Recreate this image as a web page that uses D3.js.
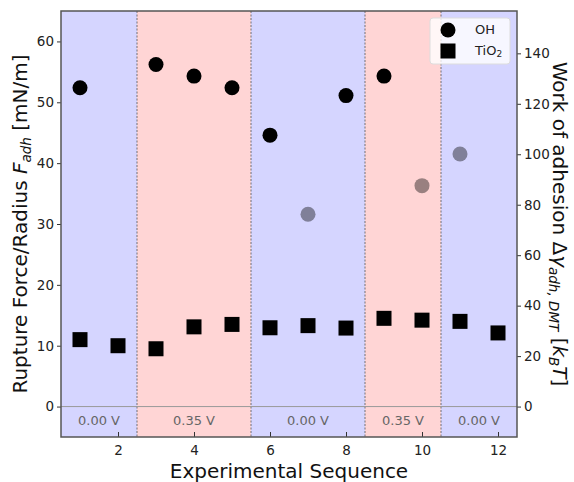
<!DOCTYPE html>
<html>
<head>
<meta charset="utf-8">
<script src="https://cdn.jsdelivr.net/npm/d3@7/dist/d3.min.js"></script>
<style>
  body { margin: 0; background: #fff; }
  svg { font-family: "DejaVu Sans", sans-serif; }
</style>
</head>
<body>
<div id="chart"><svg width="574" height="482"></svg></div>
<script>
// ---- data ----
const seq = [1, 2, 3, 4, 5, 6, 7, 8, 9, 10, 11, 12];
const ohSeq = [1, 3, 4, 5, 6, 8, 9];
const ohForce = [52.4, 56.2, 54.3, 52.4, 44.6, 51.1, 54.3];
const ohFadedSeq = [7, 10, 11];
const ohFadedForce = [31.6, 36.3, 41.5];
const tioForce = [11.0, 10.0, 9.5, 13.1, 13.5, 12.95, 13.3, 12.9, 14.5, 14.2, 14.0, 12.1];
const regionStart = [0.5, 2.5, 5.5, 8.5, 10.5];
const regionEnd = [2.5, 5.5, 8.5, 10.5, 12.5];
const regionVolt = ["0.00 V", "0.35 V", "0.00 V", "0.35 V", "0.00 V"];
const xTicks = [2, 4, 6, 8, 10, 12];
const yLeftTicks = [0, 10, 20, 30, 40, 50, 60];
const yRightTicks = [0, 20, 40, 60, 80, 100, 120, 140];

// ---- setup ----
const width = 574, height = 482;
const margin = {top: 11, left: 61, right: 57, bottom: 45};
const svg = d3.select("#chart svg");

const x = d3.scaleLinear().domain([0.5, 12.5]).range([margin.left, width - margin.right]);
const yL = d3.scaleLinear().domain([-5, 65]).range([height - margin.bottom, margin.top]);
const ratio = 2.412; // work of adhesion per unit force
const yR = d3.scaleLinear().domain([-5 * ratio, 65 * ratio]).range([height - margin.bottom, margin.top]);

const plotTop = margin.top, plotBot = height - margin.bottom;
const blue = "#d5d5ff", red = "#ffd5d5";

// voltage regions
svg.selectAll(".region").data(regionStart).enter().append("rect")
  .attr("x", (d) => x(d))
  .attr("width", (d, i) => x(regionEnd[i]) - x(d))
  .attr("y", plotTop).attr("height", plotBot - plotTop)
  .attr("fill", (d, i) => i % 2 ? red : blue);

// dashed boundaries
svg.selectAll(".bound").data(regionStart.slice(1)).enter().append("line")
  .attr("x1", (d) => x(d)).attr("x2", (d) => x(d))
  .attr("y1", plotTop).attr("y2", plotBot)
  .attr("stroke", "#555").attr("stroke-width", 0.8)
  .attr("stroke-dasharray", "2,1.5");

// zero line
svg.append("line")
  .attr("x1", x(0.5)).attr("x2", x(12.5))
  .attr("y1", yL(0)).attr("y2", yL(0))
  .attr("stroke", "#999").attr("stroke-width", 1);

// voltage labels
svg.selectAll(".volt").data(regionVolt).enter().append("text")
  .attr("x", (d, i) => x((regionStart[i] + regionEnd[i]) / 2))
  .attr("y", yL(-2.5))
  .attr("text-anchor", "middle").attr("dominant-baseline", "middle")
  .attr("fill", "#666").style("font-size", "13px")
  .text((d) => d);

// faded OH circles
svg.selectAll(".ohf").data(ohFadedSeq).enter().append("circle")
  .attr("cx", (d) => x(d)).attr("cy", (d, i) => yL(ohFadedForce[i]))
  .attr("r", 7.5).attr("fill", "#000").attr("fill-opacity", 0.4);

// OH circles
svg.selectAll(".oh").data(ohSeq).enter().append("circle")
  .attr("cx", (d) => x(d)).attr("cy", (d, i) => yL(ohForce[i]))
  .attr("r", 7.5).attr("fill", "#000");

// TiO2 squares
const sq = 15;
svg.selectAll(".tio").data(seq).enter().append("rect")
  .attr("x", (d) => x(d) - sq / 2).attr("y", (d, i) => yL(tioForce[i]) - sq / 2)
  .attr("width", sq).attr("height", sq).attr("fill", "#000");

// ---- axes ----
const xAxis = svg.append("g").attr("transform", `translate(0,${plotBot})`)
  .call(d3.axisBottom(x).tickValues(xTicks).tickSize(-5).tickPadding(8).tickFormat(d3.format("d")));
const yAxisL = svg.append("g").attr("transform", `translate(${margin.left},0)`)
  .call(d3.axisLeft(yL).tickValues(yLeftTicks).tickSize(4).tickPadding(3));
const yAxisR = svg.append("g").attr("transform", `translate(${width - margin.right},0)`)
  .call(d3.axisRight(yR).tickValues(yRightTicks).tickSize(4).tickPadding(3));

[xAxis, yAxisL, yAxisR].forEach((g) => {
  g.select(".domain").remove();
  g.selectAll("line").attr("stroke", "#333");
  g.selectAll("text").attr("fill", "#222").style("font-size", "13.5px").attr("font-family", "DejaVu Sans, sans-serif");
});

// frame
svg.append("rect")
  .attr("x", margin.left).attr("y", plotTop)
  .attr("width", width - margin.right - margin.left).attr("height", plotBot - plotTop)
  .attr("fill", "none").attr("stroke", "#555").attr("stroke-width", 1.5);

// ---- legend ----
const lg = svg.append("g");
lg.append("rect").attr("x", 430).attr("y", 18).attr("width", 80).attr("height", 46)
  .attr("rx", 3).attr("fill", "#fff").attr("fill-opacity", 0.8).attr("stroke", "#ddd");
lg.append("circle").attr("cx", 448).attr("cy", 30).attr("r", 7.5).attr("fill", "#000");
lg.append("rect").attr("x", 448 - 7.5).attr("y", 51 - 7.5).attr("width", 15).attr("height", 15).attr("fill", "#000");
lg.append("text").attr("x", 475).attr("y", 30).attr("dominant-baseline", "middle")
  .style("font-size", "13px").attr("fill", "#222").text("OH");
const tt = lg.append("text").attr("x", 475).attr("y", 51).attr("dominant-baseline", "middle")
  .style("font-size", "13px").attr("fill", "#222").text("TiO");
tt.append("tspan").attr("dy", 3).style("font-size", "9px").text("2");

// ---- axis labels ----
svg.append("text")
  .attr("x", x(6.5)).attr("y", 478)
  .attr("text-anchor", "middle").style("font-size", "20px").attr("fill", "#111")
  .text("Experimental Sequence");

const ll = svg.append("text")
  .attr("transform", `translate(27,${(plotTop + plotBot) / 2}) rotate(-90)`)
  .attr("text-anchor", "middle").style("font-size", "20px").attr("fill", "#111");
ll.append("tspan").text("Rupture Force/Radius ");
ll.append("tspan").style("font-style", "italic").text("F");
ll.append("tspan").attr("dy", 4).style("font-size", "13.5px").style("font-style", "italic").text("adh");
ll.append("tspan").attr("dy", -4).text(" [mN/m]");

const rl = svg.append("text")
  .attr("transform", `translate(553,${(plotTop + plotBot) / 2}) rotate(90)`)
  .attr("text-anchor", "middle").style("font-size", "20px").attr("fill", "#111");
rl.append("tspan").text("Work of adhesion Δ");
rl.append("tspan").style("font-style", "italic").text("γ");
rl.append("tspan").attr("dy", 4).style("font-size", "13.5px").style("font-style", "italic").text("adh, DMT");
rl.append("tspan").attr("dy", -4).text(" [");
rl.append("tspan").style("font-style", "italic").text("k");
rl.append("tspan").attr("dy", 4).style("font-size", "13.5px").style("font-style", "italic").text("B");
rl.append("tspan").attr("dy", -4).style("font-style", "italic").text("T");
rl.append("tspan").text("]");
</script>
</body>
</html>
